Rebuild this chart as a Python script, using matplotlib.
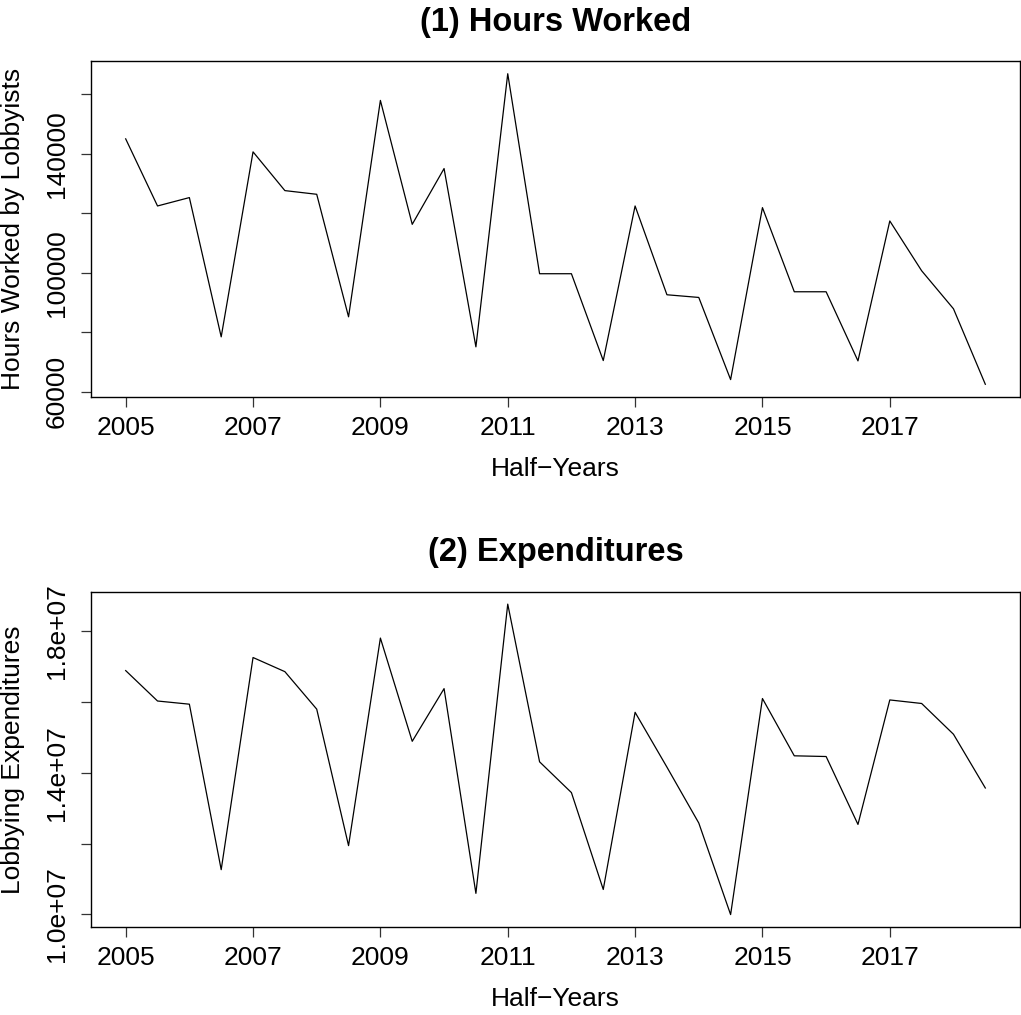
import numpy as np
import matplotlib
matplotlib.use("Agg")
from matplotlib import pyplot as plt

# half-year periods, 2005 H1 .. 2018 H2
half_years = np.arange(2005, 2019, 0.5)

hours_worked = [145050, 122470, 125290, 78430, 140680, 127640, 126400, 85170,
                157990, 116290, 135060, 75060, 166970, 99670, 99670, 70450,
                122470, 92590, 91690, 64045, 121910, 93600, 93600, 70340,
                117420, 100670, 87870, 62470]

expenditures = [16.89e6, 16.03e6, 15.94e6, 11.26e6, 17.26e6, 16.86e6, 15.80e6, 11.94e6,
                17.81e6, 14.89e6, 16.38e6, 10.59e6, 18.77e6, 14.31e6, 13.44e6, 10.70e6,
                15.71e6, 14.16e6, 12.58e6, 9.99e6, 16.10e6, 14.48e6, 14.46e6, 12.54e6,
                16.06e6, 15.96e6, 15.09e6, 13.57e6]

year_ticks = [2005, 2007, 2009, 2011, 2013, 2015, 2017]

hours_ticks = [60000, 80000, 100000, 120000, 140000, 160000]
hours_labels = ['60000', '', '100000', '', '140000', '']

exp_ticks = [1.0e7, 1.2e7, 1.4e7, 1.6e7, 1.8e7]
exp_labels = ['1.0e+07', '', '1.4e+07', '', '1.8e+07']

plt.rcParams['font.family'] = ['Liberation Sans', 'DejaVu Sans']

W, H = 1021, 1015
fig = plt.figure(figsize=(W / 100, H / 100), dpi=100)


def px_axes(left, top, right, bottom):
    return fig.add_axes([left / W, 1 - bottom / H, (right - left) / W, (bottom - top) / H])


def style_panel(ax, title, ylabel, yticks, ylabels):
    ax.margins(x=0.04, y=0.04)
    ax.set_xticks(year_ticks)
    ax.set_xticklabels([str(y) for y in year_ticks], fontsize=19)
    ax.set_yticks(yticks)
    ax.set_yticklabels(ylabels, fontsize=19, rotation=90, va='center')
    ax.tick_params(axis='both', direction='out', length=7.5, width=0.9, color='#333333')
    ax.tick_params(axis='x', pad=6.5)
    ax.tick_params(axis='y', pad=8.5)
    for s in ax.spines.values():
        s.set_linewidth(1.0)
    ax.set_title(title, fontsize=23.5, fontweight='bold', pad=22)
    ax.set_xlabel('Half\u2212Years', fontsize=19)
    ax.xaxis.set_label_coords(0.5, -0.18)
    ax.xaxis.label.set_va('top')
    ax.set_ylabel(ylabel, fontsize=19)
    ax.yaxis.set_label_coords(-0.0714, 0.5)


ax1 = px_axes(91.3, 61.3, 1019.7, 396.7)
ax1.plot(half_years, hours_worked, color='black', lw=0.9)
style_panel(ax1, '(1) Hours Worked', 'Hours Worked by Lobbyists', hours_ticks, hours_labels)

ax2 = px_axes(91.3, 591.7, 1019.7, 927)
ax2.plot(half_years, expenditures, color='black', lw=0.9)
style_panel(ax2, '(2) Expenditures', 'Lobbying Expenditures', exp_ticks, exp_labels)

fig.savefig('out.png', dpi=100)
